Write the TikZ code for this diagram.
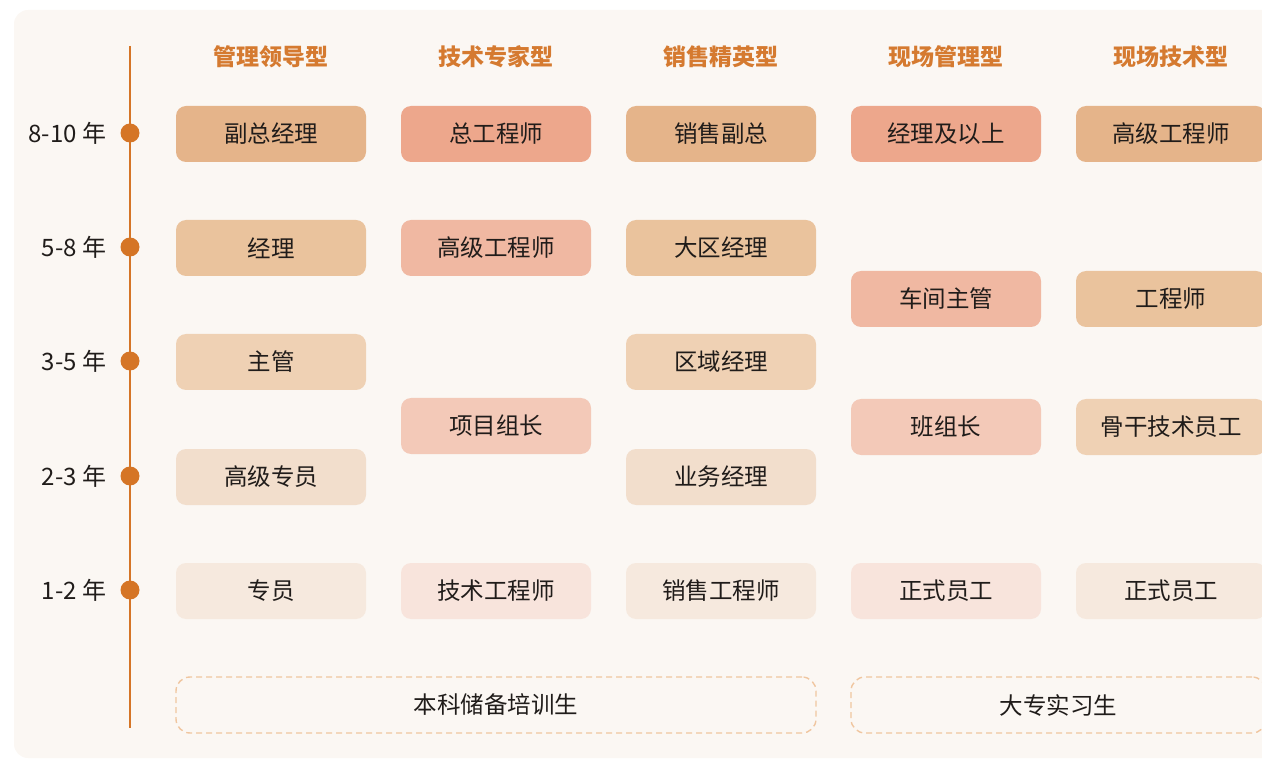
\documentclass[tikz,border=0pt]{standalone}
\usepackage{fontspec}
\setmainfont{Noto Sans CJK SC}
\begin{document}
\begin{tikzpicture}[x=1pt,y=-1pt,
  every node/.style={font=\fontsize{23.5}{26}\selectfont, text=txt, inner sep=0pt},
  job/.style={rounded corners=10pt, minimum width=190pt, minimum height=56pt},
  head/.style={font=\fontsize{23}{26}\selectfont\bfseries, text=hd},
  yr/.style={anchor=east, font=\fontsize{24}{26}\selectfont},
  dot/.style={circle, fill=axis, minimum size=19pt},
  entry/.style={draw=dash, dashed, dash pattern=on 6pt off 4pt, line width=1.4pt, rounded corners=14pt, minimum height=56pt}
]
\definecolor{bg}{HTML}{FBF7F3}
\definecolor{txt}{HTML}{201C1A}
\definecolor{hd}{HTML}{D57A30}
\definecolor{axis}{HTML}{D57526}
\definecolor{dash}{HTML}{F0C6A0}
\definecolor{t1}{HTML}{E5B48A}
\definecolor{t2}{HTML}{EAC39D}
\definecolor{t3}{HTML}{EFD1B4}
\definecolor{t4}{HTML}{F2DECC}
\definecolor{t5}{HTML}{F6E9DE}
\definecolor{s1}{HTML}{EDA78C}
\definecolor{s2}{HTML}{F0B8A2}
\definecolor{s3}{HTML}{F3C9B8}
\definecolor{s4}{HTML}{F8E4DC}
\useasboundingbox (0,0) rectangle (1262,759);
\clip (0,0) rectangle (1262,759);
\fill[bg, rounded corners=14pt] (14,10) rectangle (1290,758);
% timeline
\coordinate (ttop) at (130,46);
\coordinate (tbot) at (130,728);
\draw[axis, line width=2.4pt] (ttop) -- (tbot);
\foreach \n/\y/\l in {a/133/8-10 年, b/247/5-8 年, c/361/3-5 年, d/476/2-3 年, e/590/1-2 年}{
  \node[dot] (dot\n) at (130,\y) {};
  \node[yr] (yr\n) at (106.5,\y) {\l};
}
% headers
\node[head] (h1) at (271,57) {管理领导型};
\node[head] (h2) at (496,57) {技术专家型};
\node[head] (h3) at (721,57) {销售精英型};
\node[head] (h4) at (946,57) {现场管理型};
\node[head] (h5) at (1171,57) {现场技术型};
% column 1
\node[job, fill=t1] (c1a) at (271,134) {副总经理};
\node[job, fill=t2] (c1b) at (271,248) {经理};
\node[job, fill=t3] (c1c) at (271,362) {主管};
\node[job, fill=t4] (c1d) at (271,477) {高级专员};
\node[job, fill=t5] (c1e) at (271,591) {专员};
% column 2
\node[job, fill=s1] (c2a) at (496,134) {总工程师};
\node[job, fill=s2] (c2b) at (496,248) {高级工程师};
\node[job, fill=s3] (c2c) at (496,426) {项目组长};
\node[job, fill=s4] (c2e) at (496,591) {技术工程师};
% column 3
\node[job, fill=t1] (c3a) at (721,134) {销售副总};
\node[job, fill=t2] (c3b) at (721,248) {大区经理};
\node[job, fill=t3] (c3c) at (721,362) {区域经理};
\node[job, fill=t4] (c3d) at (721,477) {业务经理};
\node[job, fill=t5] (c3e) at (721,591) {销售工程师};
% column 4
\node[job, fill=s1] (c4a) at (946,134) {经理及以上};
\node[job, fill=s2] (c4b) at (946,299) {车间主管};
\node[job, fill=s3] (c4c) at (946,427) {班组长};
\node[job, fill=s4] (c4e) at (946,591) {正式员工};
% column 5
\node[job, fill=t1] (c5a) at (1171,134) {高级工程师};
\node[job, fill=t2] (c5b) at (1171,299) {工程师};
\node[job, fill=t3] (c5c) at (1171,427) {骨干技术员工};
\node[job, fill=t5] (c5e) at (1171,591) {正式员工};
% entry
\node[entry, minimum width=640pt] (en1) at (496,705) {本科储备培训生};
\node[entry, minimum width=415pt] (en2) at (1058.5,705) {大专实习生};
\end{tikzpicture}
\end{document}
